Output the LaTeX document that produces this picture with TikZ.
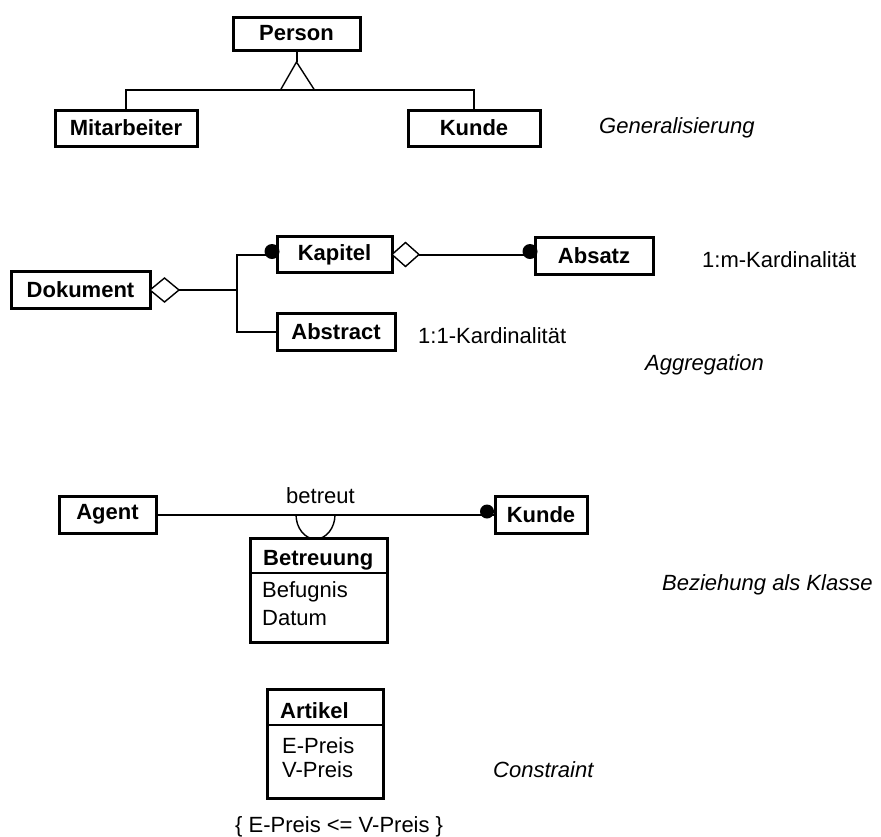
\documentclass[tikz,border=0pt]{standalone}
\usepackage{fontspec}
\setmainfont{Liberation Sans}
\usetikzlibrary{shapes.geometric,calc}
\begin{document}
\begin{tikzpicture}[x=1pt,y=-1pt,
  every node/.style={font=\fontsize{22}{26}\selectfont},
  box/.style={draw, line width=3pt, inner sep=0pt, outer sep=0pt,
              font=\fontsize{22}{26}\selectfont\bfseries},
  classbox/.style={draw, line width=3pt, inner sep=0pt, outer sep=0pt},
  conn/.style={line width=2pt},
  thin/.style={line width=1.4pt},
  agg/.style={draw, diamond, line width=1.4pt, inner sep=0pt, outer sep=0pt,
              minimum width=29pt, minimum height=24pt, fill=white},
  dot/.style={circle, fill=black, inner sep=0pt, minimum size=15pt},
  plain/.style={anchor=base west, inner sep=0pt},
  boldtext/.style={anchor=base west, inner sep=0pt,
                   font=\fontsize{22}{26}\selectfont\bfseries},
  note/.style={anchor=base west, inner sep=0pt,
               font=\fontsize{22}{26}\selectfont\itshape},
]
\useasboundingbox (0,0) rectangle (881,836);

% ---------- Generalisierung ----------
\node[box, minimum width=127pt, minimum height=33pt] (person) at (296.5,33.5) {Person};
\node[box, minimum width=142pt, minimum height=36pt] (mitarbeiter) at (126,128) {Mitarbeiter};
\node[box, minimum width=132pt, minimum height=36pt] (kundeA) at (474,128) {Kunde};
\coordinate (apex) at ($(person.south)+(0,12)$);
\draw[conn] (person.south) -- (apex);
\draw[thin] ($(apex)+(-16,28)$) -- (apex) -- ($(apex)+(18,28)$);
\draw[conn] (mitarbeiter.north) -- ++(0,-20) -| (kundeA.north);
\node[note] (lblgen) at (599,133) {Generalisierung};

% ---------- Aggregation ----------
\node[box, minimum width=139pt, minimum height=37pt] (dokument) at (80.5,290) {Dokument};
\node[agg, anchor=west] (aggdok) at (dokument.east) {};
\node[box, minimum width=115pt, minimum height=36pt] (kapitel) at (334.5,254.5) {Kapitel};
\node[box, minimum width=118pt, minimum height=37pt] (abstract) at (336,331.5) {Abstract};
\node[box, minimum width=118pt, minimum height=37pt] (absatz) at (594,255.5) {Absatz};
\node[agg, anchor=west, minimum width=27pt] (aggkap) at (kapitel.east) {};
\coordinate (jdok) at (237,290);
\draw[conn] (aggdok.east) -- (jdok);
\draw[conn] (kapitel.west) -| (jdok) |- (abstract.west);
\draw[conn] (aggkap.east) -- (aggkap.east -| absatz.west);
\node[dot] (dotkap) at ($(kapitel.west)+(-5,-3)$) {};
\node[dot] (dotabs) at ($(absatz.west)+(-5,-4)$) {};
\node[plain] (lblmk) at (702,267) {1:m-Kardinalität};
\node[plain] (lbl11) at (418,343) {1:1-Kardinalität};
\node[note] (lblagg) at (645,370) {Aggregation};

% ---------- Beziehung als Klasse ----------
\node[box, minimum width=97pt, minimum height=37pt] (agent) at (107.5,514.5) {Agent};
\node[box, minimum width=92pt, minimum height=37pt] (kundeB) at (541,514.5) {Kunde};
\draw[conn] (agent.east) -- (kundeB.west);
\node[dot, minimum size=14pt] (dotkunde) at ($(kundeB.west)+(-8,-3)$) {};
\node[plain] (betreut) at (286,503) {betreut};
\coordinate (arcstart) at (296,514.5);
\draw[thin] (arcstart) arc[start angle=180, end angle=360, x radius=19.5pt, y radius=24.5pt];
\node[classbox, minimum width=137pt, minimum height=104pt] (betreuung) at (318.5,590) {};
\draw[line width=2.5pt] ($(betreuung.north west)+(0,35)$) -- ($(betreuung.north east)+(0,35)$);
\node[boldtext] (betreuungname) at (263,565) {Betreuung};
\node[plain] (befugnis) at (262,597) {Befugnis};
\node[plain] (datum) at (262,625) {Datum};
\node[note] (lblbez) at (662,590) {Beziehung als Klasse};

% ---------- Constraint ----------
\node[classbox, minimum width=116pt, minimum height=109pt] (artikel) at (325,743.5) {};
\draw[line width=2.5pt] ($(artikel.north west)+(0,36)$) -- ($(artikel.north east)+(0,36)$);
\node[boldtext] (artikelname) at (280,718) {Artikel};
\node[plain] (epreis) at (282,753) {E-Preis};
\node[plain] (vpreis) at (282,777) {V-Preis};
\node[plain] (constr) at (235,832) {\{ E-Preis <= V-Preis \}};
\node[note] (lblcon) at (493,777) {Constraint};

\end{tikzpicture}
\end{document}
